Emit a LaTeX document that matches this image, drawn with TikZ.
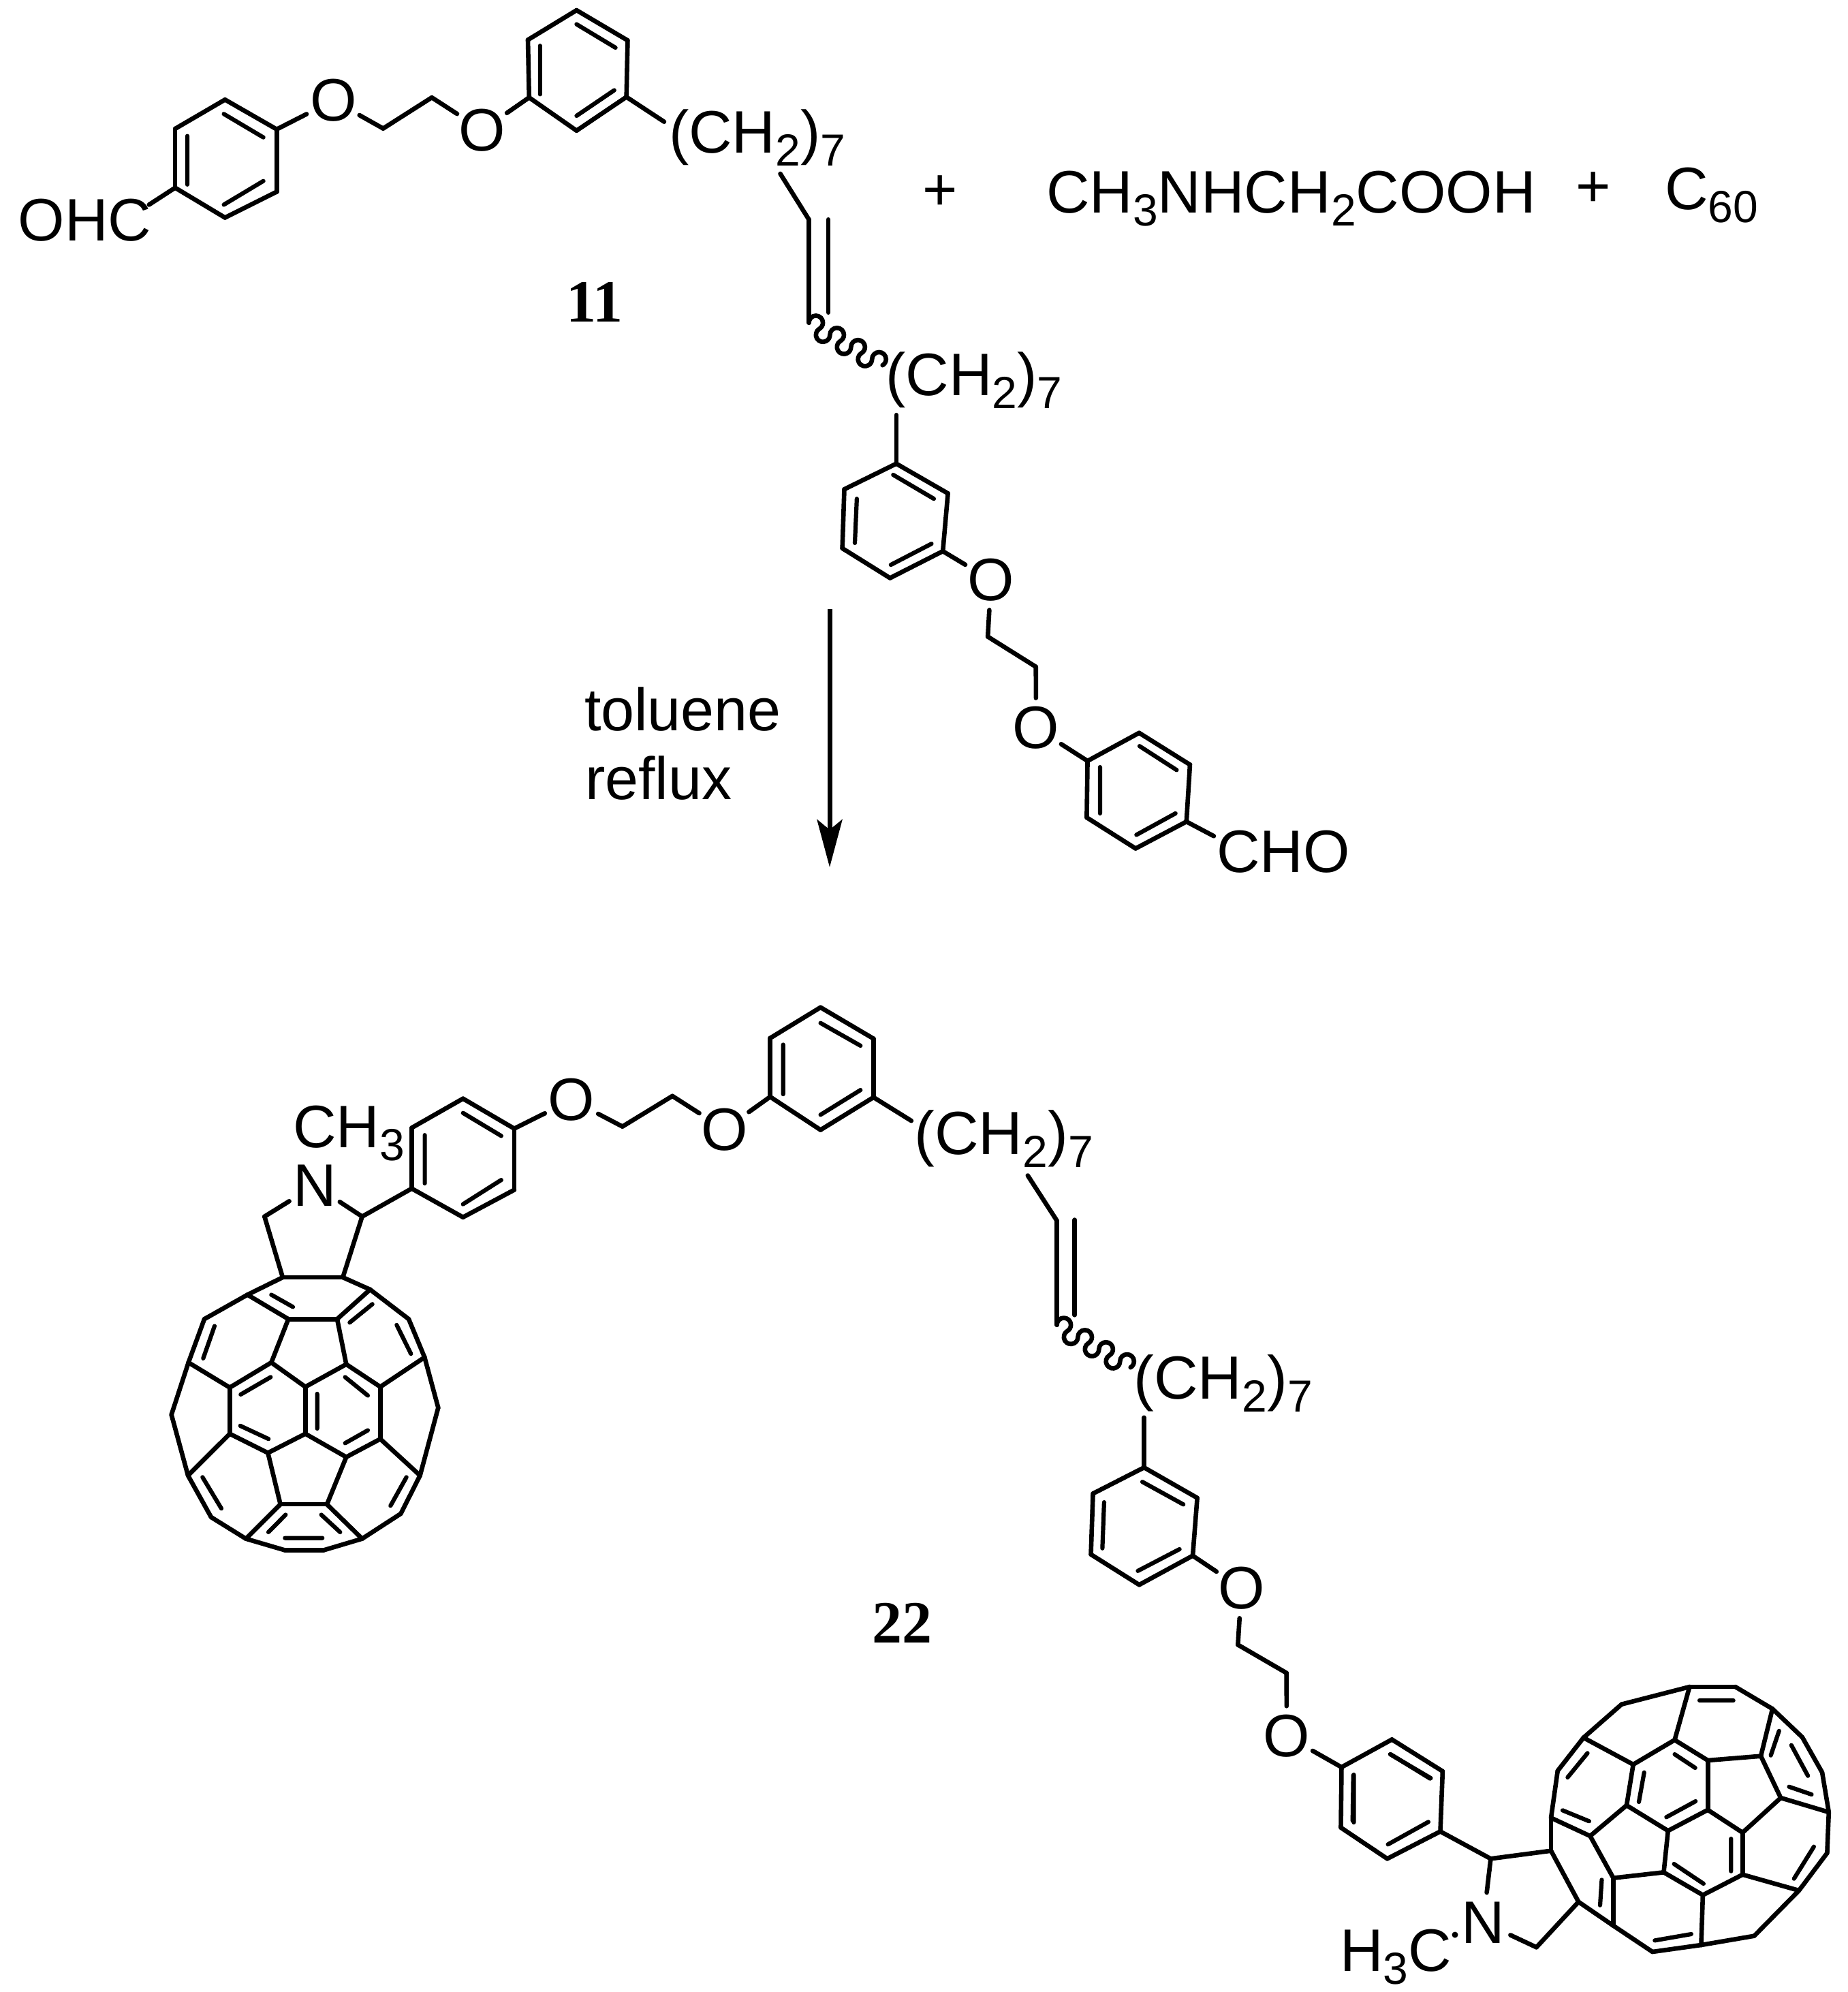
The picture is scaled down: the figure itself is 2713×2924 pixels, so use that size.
\documentclass[tikz,border=0pt]{standalone}
\usepackage{fontspec}
\setmainfont{Liberation Sans}
\newfontfamily\cmpdfont{Liberation Serif}
\usetikzlibrary{arrows.meta}
\newcommand\chsub[1]{\raisebox{-19pt}{\fontsize{66}{68}\selectfont #1}}
\newcommand\pts[1]{\foreach \n/\px/\py in {#1} {\coordinate (\n) at (\px,\py);}}
\newcommand\bonds[1]{\foreach \ba/\bb in {#1} {\draw[bond] (\ba) -- (\bb);}}
\newcommand\wavy[1]{\draw[bond] (#1)
  arc[start angle=180,delta angle=-240,radius=10.3pt]
  arc[start angle=120,delta angle=240,radius=10.3pt]
  arc[start angle=180,delta angle=-240,radius=10.3pt]
  arc[start angle=120,delta angle=240,radius=10.3pt]
  arc[start angle=180,delta angle=-240,radius=10.3pt]
  arc[start angle=120,delta angle=240,radius=10.3pt]
  arc[start angle=180,delta angle=-240,radius=10.3pt];}
\tikzset{
  bond/.style={line width=6.6pt,line cap=round,line join=round,black},
  innerbond/.style={line width=6.2pt,line cap=round,black},
  lbl/.style={inner sep=0pt,outer sep=0pt,font=\fontsize{88}{100}\selectfont,text=black},
  chain/.style={lbl,anchor=base west},
  chainwide/.style={chain,font=\fontsize{89.5}{100}\selectfont},
  atomlbl/.style={circle,inner sep=0pt,outer sep=0pt,minimum size=88pt,font=\fontsize{88}{100}\selectfont,text=black},
  cmpd/.style={inner sep=0pt,outer sep=0pt,anchor=base,font=\fontsize{88}{90}\selectfont\cmpdfont\bfseries,text=black},
}
\newcommand\atm[1]{\makebox[0pt][c]{#1}}
\begin{document}
\begin{tikzpicture}[x=1pt,y=-1pt]
\useasboundingbox (0,0) rectangle (2713,2924);
\fill[white] (0,0) rectangle (2713,2924);

% ---- labels and atoms
\node[chain] (ohcA) at (27,353) {OHC};
\node[atomlbl] (O1) at (489.3,147.5) {\atm{O}};
\node[atomlbl] (O2) at (708,191) {\atm{O}};
\node[chain] (chainA) at (982,224.5) {(CH\chsub{2})\chsub{7}};
\node[chain] (chainB) at (1300.5,580.6) {(CH\chsub{2})\chsub{7}};
\node[atomlbl] (O3) at (1454.8,851.5) {\atm{O}};
\node[atomlbl] (O4) at (1520.8,1068.5) {\atm{O}};
\node[chain] (choA) at (1786,1280.6) {CHO};
\node[lbl,anchor=base] (plusA) at (1380,308) {+};
\node[chain] (glycine) at (1536,312) {CH\chsub{3}NHCH\chsub{2}COOH};
\node[lbl,anchor=base] (plusB) at (2339,303) {+};
\node[chain] (cso) at (2444,307) {C\chsub{60}};
\node[cmpd] (cmpdA) at (873,472.5) {11};
\node[chain] (tol) at (858,1072) {toluene};
\node[chain] (ref) at (859,1173) {reflux};
\node[cmpd] (cmpdB) at (1324,2411) {22};

\node[chain] (chL) at (430,1684.7) {CH\chsub{3}};
\node[atomlbl] (NL) at (462,1740) {\atm{N}};
\node[atomlbl] (O5) at (839.2,1614.6) {\atm{O}};
\node[atomlbl] (O6) at (1063.6,1657.8) {\atm{O}};
\node[chainwide] (chainC) at (1342.5,1694) {(CH\chsub{2})\chsub{7}};
\node[chainwide] (chainD) at (1664.5,2053) {(CH\chsub{2})\chsub{7}};
\node[atomlbl] (O7) at (1822.4,2331.4) {\atm{O}};
\node[atomlbl] (O8) at (1888.8,2548.2) {\atm{O}};
\node[atomlbl] (NR) at (2177.5,2821.7) {\atm{N}};
\node[chain] (chR) at (1967,2893) {H\chsub{3}C};
\node[circle,fill=black,inner sep=0pt,minimum size=9pt] (dotR) at (2136,2840) {};

% ---- compound 11, first half
\begin{scope}[x=0.89286pt,y=-0.3954pt]
\pts{a1/370/370,a2/455/480,a3/455/712,a4/370/808,a5/288/697,a6/288/478,
e1/630/477,e2/710/362,
b1/948/38,b2/1032/150,b3/1030/360,b4/948/485,b5/870/362,b6/868/148,
ohcE/245/760,chAin/1092/452,chAout/1283/645,v1/1330/815,v2/1362/815,v3/1330/1198,v4/1362/1160}
\draw[innerbond] (368,423)--(433,510) (308,505)--(308,685) (368,760)--(433,672)
 (948,90)--(1012,177) (888,170)--(888,350) (948,430)--(1010,335);
\end{scope}
\bonds{a1/a2,a2/a3,a3/a4,a4/a5,a5/a6,a6/a1,a5/ohcE,a2/O1,O1/e1,e1/e2,e2/O2,O2/b5,
b1/b2,b2/b3,b3/b4,b4/b5,b5/b6,b6/b1,b3/chAin,chAout/v1,v1/v3,v2/v4}
\wavy{v3}

% ---- compound 11, second half
\begin{scope}[shift={(1100,400)},x=0.57405pt,y=-0.60606pt]
\pts{c1/376/463,c2/508/535,c3/495/675,c4/360/740,c5/238/668,c6/243/525,
chBout/376/345,f1/610/882,f2/733/955,
d1/865/1183,d2/997/1115,d3/1127/1192,d4/1118/1330,d5/988/1395,d6/863/1320,choE/1188/1365}
\draw[innerbond] (368,490)--(472,548) (275,548)--(270,655) (362,708)--(466,657)
 (998,1147)--(1093,1205) (897,1198)--(897,1310) (990,1362)--(1090,1310);
\end{scope}
\bonds{chBout/c1,c1/c2,c2/c3,c3/c4,c4/c5,c5/c6,c6/c1,c3/O3,O3/f1,f1/f2,f2/O4,O4/d1,
d1/d2,d2/d3,d3/d4,d4/d5,d5/d6,d6/d1,d4/choE}

% ---- reaction arrow
\coordinate (arrS) at (1218,894);
\coordinate (arrE) at (1218,1273);
\draw[line width=7pt,-{Stealth[length=70pt,width=37pt,inset=15pt]}] (arrS) -- (arrE);

% ---- left fullerene
\begin{scope}[shift={(200,1500)},x=0.33333pt,y=-0.5102pt]
\pts{La/645/735,Lb/910/735,Lc/565/560,Ld/995/560,
Lo1/490/785,Lo2/300/855,Lo3/230/980,Lo4/155/1130,Lo5/228/1305,Lo6/330/1425,Lo7/483/1487,Lo8/655/1520,
Lo9/825/1520,Lo10/995/1487,Lo11/1165/1415,Lo12/1250/1305,Lo13/1330/1110,Lo14/1270/965,Lo15/1200/855,Lo16/1030/770,
Li1/670/855,Li2/885/855,Li3/595/980,Li4/925/985,Li5/745/1050,Li6/745/1185,Li7/412/1052,Li8/412/1185,
Li9/580/1240,Li10/925/1252,Li11/1075/1050,Li12/1075/1200,Li13/635/1388,Li14/840/1388}
\draw[innerbond] (595,785)--(690,820) (940,865)--(1040,812) (1147,872)--(1210,955) (345,875)--(295,968)
 (460,1072)--(592,1022) (920,1022)--(1020,1075) (797,1070)--(797,1170) (458,1162)--(583,1200)
 (920,1212)--(1020,1175) (292,1310)--(375,1400) (1190,1310)--(1120,1392) (582,1468)--(658,1418)
 (815,1418)--(898,1468) (655,1485)--(820,1485);
\end{scope}
\bonds{La/Lb,La/Lo1,Lb/Lo16,La/Lc,Lb/Ld,Lc/NL,Ld/NL,
Lo1/Lo2,Lo2/Lo3,Lo3/Lo4,Lo4/Lo5,Lo5/Lo6,Lo6/Lo7,Lo7/Lo8,Lo8/Lo9,Lo9/Lo10,Lo10/Lo11,Lo11/Lo12,Lo12/Lo13,Lo13/Lo14,Lo14/Lo15,Lo15/Lo16,
Lo1/Li1,Li2/Lo16,Li1/Li2,Li1/Li3,Li2/Li4,Li3/Li5,Li4/Li5,Li5/Li6,Li3/Li7,Li7/Li8,Li8/Li9,Li9/Li6,Li6/Li10,
Li4/Li11,Li11/Li12,Li12/Li10,Lo3/Li7,Lo14/Li11,Li8/Lo5,Li12/Lo12,Li9/Li13,Li10/Li14,Li13/Li14,Li13/Lo7,Li14/Lo10}

% ---- compound 22, first half
\begin{scope}[shift={(600,1450)},x=0.63776pt,y=-0.38265pt]
\pts{r1/125/425,r2/243/540,r3/243/775,r4/125/880,r5/7/770,r6/7/537,
g1/492/532,g2/607/415,
t1/948/75,t2/1070/195,t3/1070/420,t4/948/545,t5/832/418,t6/832/193,
chCin/1157/510,chCout/1425/720,w1/1492/893,w2/1533/890,w3/1492/1293,w4/1533/1255}
\draw[innerbond] (125,480)--(213,568) (37,565)--(37,750) (125,830)--(213,737)
 (948,135)--(1040,222) (862,218)--(862,408) (948,487)--(1040,392);
\end{scope}
\bonds{Ld/r5,r1/r2,r2/r3,r3/r4,r4/r5,r5/r6,r6/r1,r2/O5,O5/g1,g1/g2,g2/O6,O6/t5,
t1/t2,t2/t3,t3/t4,t4/t5,t5/t6,t6/t1,t3/chCin,chCout/w1,w1/w3,w2/w4}
\wavy{w3}

% ---- compound 22, second half
\begin{scope}[shift={(1450,1700)},x=0.5102pt,y=-0.63776pt]
\pts{u1/450/712,u2/603/782,u3/590/915,u4/436/982,u5/297/912,u6/303/772,
chDout/450/597,h1/720/1120,h2/860/1185}
\draw[innerbond] (445,745)--(563,797) (335,792)--(330,898) (432,950)--(552,900)
 (1158,1372)--(1275,1427) (1052,1420)--(1050,1525);
\end{scope}
\bonds{chDout/u1,u1/u2,u2/u3,u3/u4,u4/u5,u5/u6,u6/u1,u3/O7,O7/h1,h1/h2,h2/O8}

% ---- right fullerene
\begin{scope}[shift={(1950,2440)},x=0.48662pt,y=-0.33333pt]
\pts{s1/40/462,s2/192/340,s3/345/480,s4/338/745,s5/178/865,s6/38/728,
Ra/672/830,Rb/755/1055,Rc/490/865,Rd/628/1255,
Ro1/672/685,Ro2/692/478,Ro3/770/332,Ro4/885/185,Ro5/1090/108,Ro6/1228/108,Ro7/1340/205,Ro8/1430/330,
Ro9/1490/485,Ro10/1510/660,Ro11/1505/840,Ro12/1420/1005,Ro13/1285/1205,Ro14/1125/1245,Ro15/978/1275,Ro16/860/1160,
Ri1/790/765,Ri2/920/450,Ri3/1045/342,Ri4/1145/432,Ri5/1305/413,Ri6/1145/650,Ri7/900/630,Ri8/1025/742,
Ri9/1250/750,Ri10/1365/597,Ri11/1250/935,Ri12/1130/1025,Ri13/1012/925,Ri14/860/950}
\draw[innerbond] (188,405)--(307,512) (77,495)--(77,705) (302,703)--(180,802)
 (707,652)--(787,700) (722,507)--(782,400) (1045,405)--(1107,465) (953,485)--(937,615)
 (1020,682)--(1108,612) (1335,410)--(1360,302) (1397,365)--(1447,500) (1390,548)--(1458,582)
 (1215,777)--(1215,920) (1465,812)--(1405,953) (1043,888)--(1132,975) (825,958)--(820,1070)
 (985,1225)--(1095,1197) (1120,168)--(1222,168);
\end{scope}
\bonds{O8/s1,s1/s2,s2/s3,s3/s4,s4/s5,s5/s6,s6/s1,s4/Rc,Rc/Ra,Rc/NR,NR/Rd,Rd/Rb,Ra/Rb,Rb/Ro16,Ra/Ro1,
Ro1/Ro2,Ro2/Ro3,Ro3/Ro4,Ro4/Ro5,Ro5/Ro6,Ro6/Ro7,Ro7/Ro8,Ro8/Ro9,Ro9/Ro10,Ro10/Ro11,Ro11/Ro12,Ro12/Ro13,Ro13/Ro14,Ro14/Ro15,Ro15/Ro16,
Ro1/Ri1,Ro3/Ri2,Ri2/Ri3,Ri3/Ro5,Ri3/Ri4,Ri4/Ri5,Ri4/Ri6,Ri2/Ri7,Ri7/Ri1,Ri7/Ri8,Ri8/Ri6,Ri6/Ri9,Ri9/Ri10,Ri5/Ri10,Ri5/Ro7,
Ri10/Ro10,Ri9/Ri11,Ri11/Ro12,Ri11/Ri12,Ri12/Ri13,Ri13/Ri8,Ri13/Ri14,Ri14/Ri1,Ri14/Ro16,Ri12/Ro14}
\end{tikzpicture}
\end{document}
